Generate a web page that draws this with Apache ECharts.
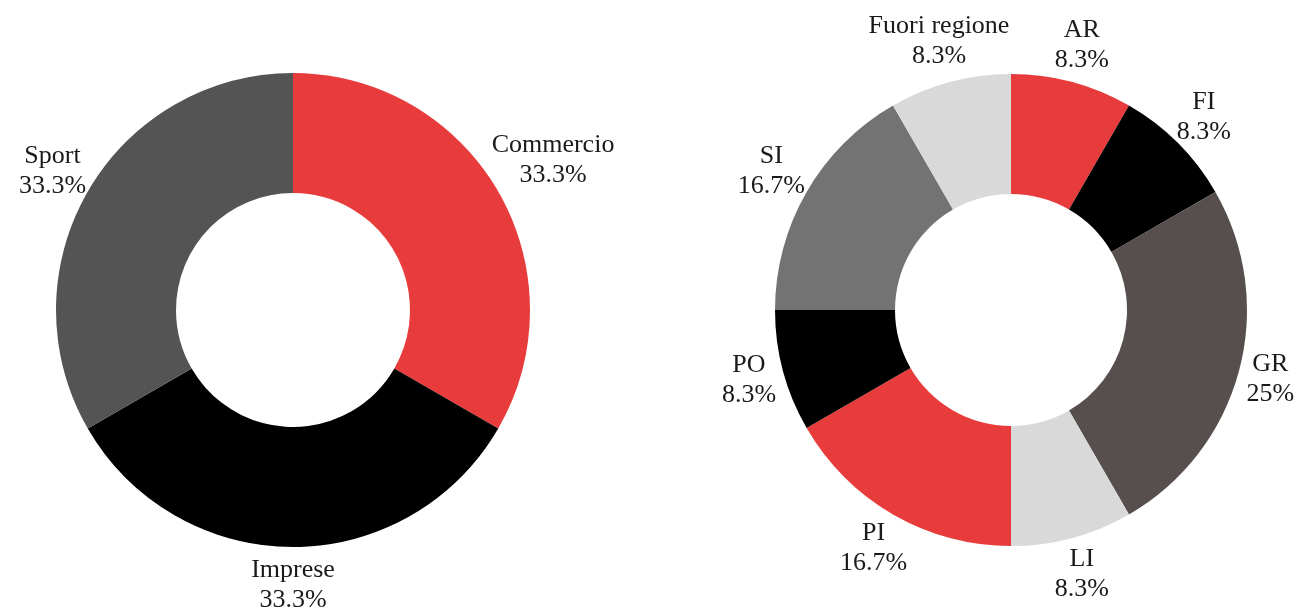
<!DOCTYPE html>
<html>
<head>
<meta charset="utf-8">
<script src="https://cdn.jsdelivr.net/npm/echarts@6/dist/echarts.min.js"></script>
<style>
	html, body { margin: 0; padding: 0; background: #fff; }
	#chart { width: 1298px; height: 611px; }
</style>
</head>
<body>
<div id="chart"></div>
<script>
var settoriNames = ['Commercio', 'Imprese', 'Sport'];
var settoriValues = [1, 1, 1];
var settoriColors = ['#E83C3C', '#000000', '#545454'];

var provinceNames = ['AR', 'FI', 'GR', 'LI', 'PI', 'PO', 'SI', 'Fuori regione'];
var provinceValues = [1, 1, 3, 1, 2, 1, 2, 1];
var provinceColors = ['#E83C3C', '#000000', '#564F4E', '#D9D9D9', '#E83C3C', '#000000', '#737373', '#D9D9D9'];

var FONT = '"Liberation Serif", "DejaVu Serif", serif';

function sum(arr) {
	var s = 0;
	for (var i = 0; i < arr.length; i++) s += arr[i];
	return s;
}

function pct(v, total) {
	return Math.round(v / total * 1000) / 10 + '%';
}

// puts the label box just outside the ring, along the slice's mid angle
function placeLabel(cx, cy, r, values, gap) {
	var total = sum(values);
	return function (params) {
		var before = sum(values.slice(0, params.dataIndex));
		var mid = (before + values[params.dataIndex] / 2) / total * 2 * Math.PI;
		var dx = Math.sin(mid), dy = -Math.cos(mid);
		var w = params.labelRect.width / 2, h = params.labelRect.height / 2;
		var t = r + gap + Math.sqrt(dx * w * dx * w + dy * h * dy * h);
		return {
			x: cx + dx * t,
			y: cy + dy * t,
			align: 'center',
			verticalAlign: 'middle'
		};
	};
}

function buildSeries(names, values, colors, cx, cy, rIn, rOut) {
	var total = sum(values);
	var data = [];
	for (var i = 0; i < names.length; i++) {
		data.push({
			name: names[i],
			value: values[i],
			itemStyle: { color: colors[i] }
		});
	}
	return {
		type: 'pie',
		center: [cx, cy],
		radius: [rIn, rOut],
		startAngle: 90,
		clockwise: true,
		silent: true,
		animation: false,
		itemStyle: { borderWidth: 0 },
		label: {
			show: true,
			position: 'outside',
			overflow: 'none',
			fontFamily: FONT,
			fontSize: 26,
			lineHeight: 30,
			color: '#1a1a1a',
			formatter: function (p) {
				return p.name + '\n' + pct(p.value, total);
			}
		},
		labelLine: { show: false },
		labelLayout: placeLabel(cx, cy, rOut, values, 8),
		data: data
	};
}

var myChart = echarts.init(document.getElementById('chart'));

var option = {
	backgroundColor: '#ffffff',
	series: [
		buildSeries(settoriNames, settoriValues, settoriColors, 293, 310, 117, 237),
		buildSeries(provinceNames, provinceValues, provinceColors, 1011, 310, 116, 236)
	]
};

myChart.setOption(option);
</script>
</body>
</html>
